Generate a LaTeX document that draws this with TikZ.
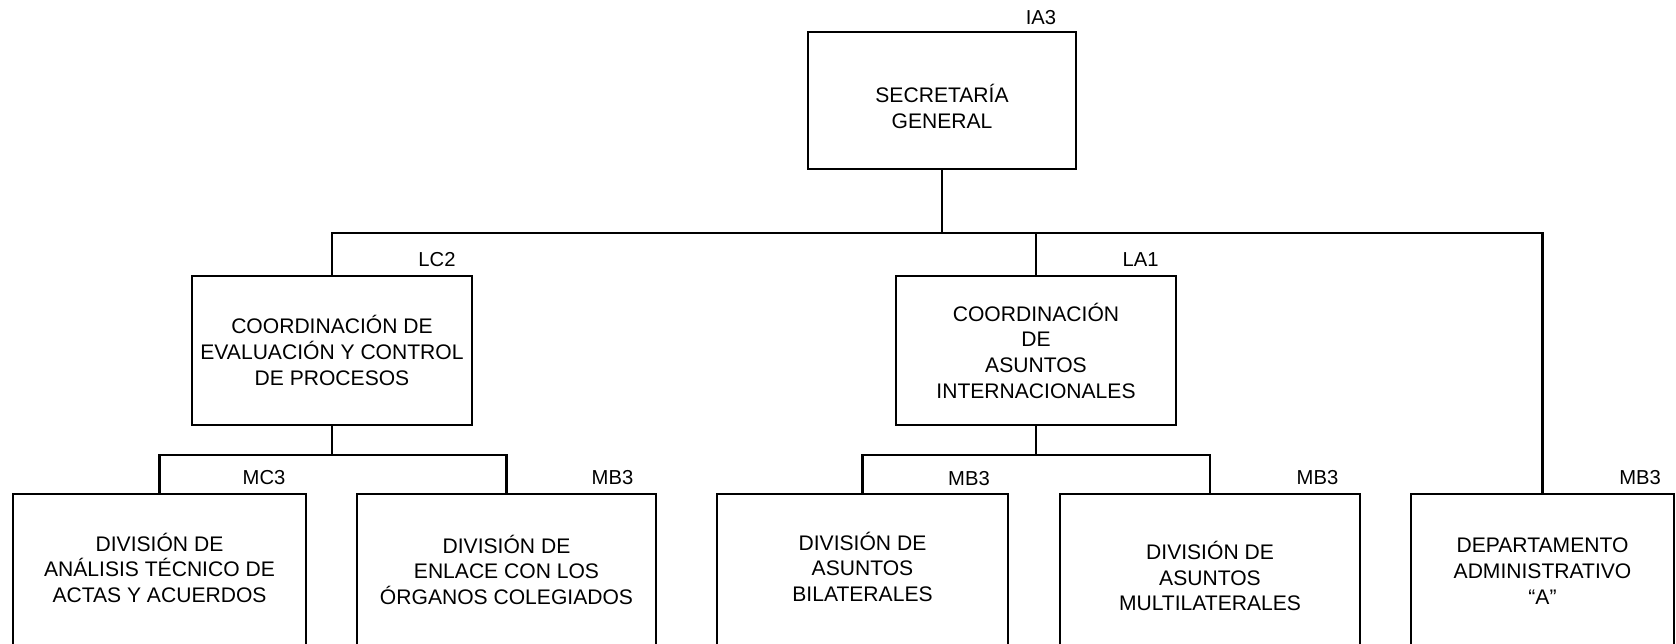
\documentclass[tikz,border=0pt]{standalone}
\usepackage{fontspec}
\setmainfont{Liberation Sans}
\newcommand{\lowerby}[1]{\rule{0pt}{#1}}
\newcommand{\raiseby}[1]{\rule[-#1]{0pt}{0pt}}
\begin{document}
\begin{tikzpicture}[x=0.02cm,y=-0.02cm,
  unit/.style 2 args={draw=black, line width=1.2pt, align=center, inner sep=0pt,
    minimum width=#1*0.02cm, minimum height=#2*0.02cm,
    font=\fontsize{12}{14.6}\selectfont},
  code/.style={inner sep=0pt, font=\fontsize{11.5}{13}\selectfont},
  link/.style={line width=1.2pt, black}]
\useasboundingbox (0,0) rectangle (1676,643);
\clip (0,0) rectangle (1676,643);

% boxes
\node[unit={268}{137}] (sg) at (942,100.5) {\lowerby{17pt}SECRETARÍA\\GENERAL};
\node[unit={280}{149}] (lc) at (332,350.5) {COORDINACIÓN DE\\EVALUACIÓN Y CONTROL\\DE PROCESOS};
\node[unit={280}{149}] (la) at (1036,350.5) {COORDINACIÓN\\DE\\ASUNTOS\\INTERNACIONALES};
\node[unit={293}{154}] (mc) at (159.5,571) {DIVISIÓN DE\\ANÁLISIS TÉCNICO DE\\ACTAS Y ACUERDOS\raiseby{3.6pt}};
\node[unit={299}{160}] (en) at (506.5,574) {DIVISIÓN DE\\ENLACE CON LOS\\ÓRGANOS COLEGIADOS\raiseby{4.9pt}};
\node[unit={291}{154}] (bi) at (862.5,571) {DIVISIÓN DE\\ASUNTOS\\BILATERALES\raiseby{4.9pt}};
\node[unit={300}{164}] (mu) at (1210,576) {DIVISIÓN DE\\ASUNTOS\\MULTILATERALES};
\node[unit={263}{154}] (de) at (1542.5,571) {DEPARTAMENTO\\ADMINISTRATIVO\\“A”};

% codes
\node[code] (sgc) at (1041,18) {IA3};
\node[code] (lcc) at (437,260) {LC2};
\node[code] (lac) at (1140.5,260) {LA1};
\node[code] (mcc) at (264,478) {MC3};
\node[code] (enc) at (612.5,478) {MB3};
\node[code] (bic) at (969,479) {MB3};
\node[code] (muc) at (1317.5,478) {MB3};
\node[code] (dec) at (1640,478) {MB3};

% bus coordinates
\coordinate (bus) at (0,233);
\coordinate (subl) at (0,455);
\coordinate (subr) at (0,455);

% connectors
\draw[link] (sg.south) -- (sg.south |- bus);
\draw[link] (lc.north) |- (de.north |- bus) -- (de.north);
\draw[link] (la.north) -- (la.north |- bus);

\draw[link] (lc.south) -- (lc.south |- subl);
\draw[link] (mc.north) |- (en.north |- subl) -- (en.north);

\draw[link] (la.south) -- (la.south |- subr);
\draw[link] (bi.north) |- (mu.north |- subr) -- (mu.north);
\end{tikzpicture}
\end{document}
